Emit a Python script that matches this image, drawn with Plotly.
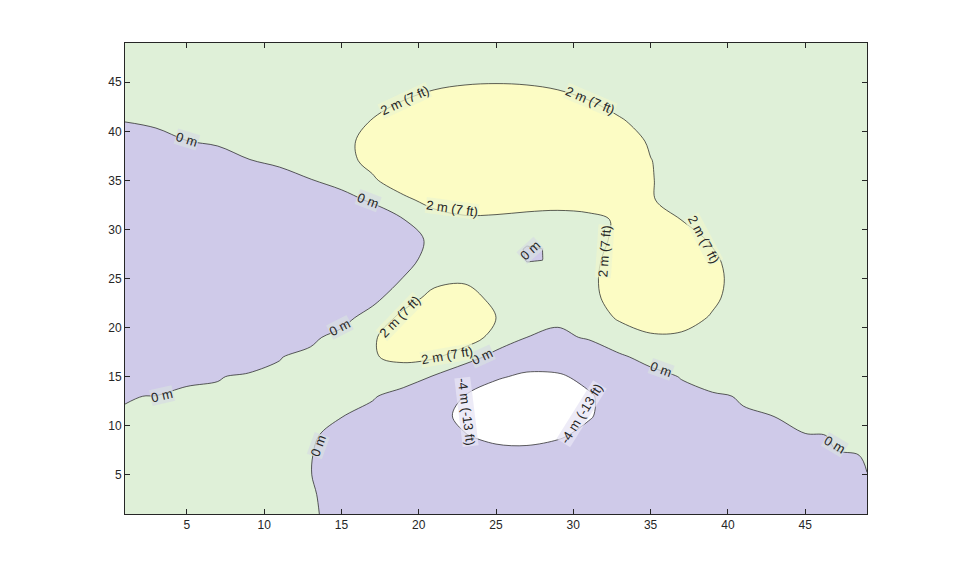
import plotly.graph_objects as go

# grid positions (every other sample of a 49x49 grid)
grid_x = list(range(1, 50, 2))
grid_y = list(range(1, 50, 2))

# surface height in metres, one row per grid_y value
height_m = [
    [0.001, 0.001, 0.001, 0.001, 0.002, 0.01, 0.004, -0.01, -0.03, -0.08, -0.14, -0.2, -0.24, -0.25, -0.22, -0.17, -0.11, -0.06, -0.03, -0.01, -0.004, -0.002, -0.001, -0.0003, -0.0001],
    [0.001, 0.001, 0.001, 0.002, 0.01, 0.01, 0.005, -0.02, -0.1, -0.22, -0.39, -0.56, -0.68, -0.69, -0.61, -0.46, -0.3, -0.17, -0.08, -0.03, -0.01, -0.003, -0.001, -0.0005, -0.0001],
    [0.001, 0.001, 0.002, 0.01, 0.01, 0.02, 0.003, -0.07, -0.23, -0.53, -0.92, -1.31, -1.57, -1.6, -1.41, -1.06, -0.69, -0.38, -0.18, -0.08, -0.03, -0.01, -0.0017, -0.0003, -0.00001],
    [0.001, 0.001, 0.01, 0.01, 0.03, 0.04, 0.01, -0.12, -0.44, -0.99, -1.74, -2.51, -3.02, -3.1, -2.72, -2.05, -1.32, -0.73, -0.35, -0.14, -0.05, -0.01, -0.0025, -0.0002, 0.00007],
    [0.0008, 0.002, 0.01, 0.02, 0.05, 0.07, 0.05, -0.13, -0.59, -1.45, -2.64, -3.88, -4.76, -4.93, -4.35, -3.27, -2.1, -1.15, -0.53, -0.2, -0.06, -0.01, -0.0012, 0.0006, 0.0004],
    [0.0006, 0.003, 0.01, 0.03, 0.07, 0.13, 0.15, 0.02, -0.46, -1.48, -3.0, -4.7, -5.97, -6.33, -5.64, -4.24, -2.69, -1.42, -0.61, -0.2, -0.04, 0.0007, 0.01, 0.003, 0.001],
    [-0.0004, 0.0003, 0.01, 0.03, 0.08, 0.19, 0.33, 0.39, 0.15, -0.68, -2.19, -4.08, -5.68, -6.33, -5.76, -4.32, -2.63, -1.27, -0.44, -0.07, 0.04, 0.05, 0.03, 0.01, 0.002],
    [-0.003, -0.01, -0.01, -0.01, 0.03, 0.17, 0.45, 0.84, 1.11, 0.88, -0.14, -1.84, -3.6, -4.6, -4.4, -3.22, -1.74, -0.56, 0.08, 0.27, 0.23, 0.13, 0.06, 0.02, 0.01],
    [-0.01, -0.02, -0.06, -0.1, -0.13, -0.04, 0.3, 0.98, 1.86, 2.45, 2.22, 1.0, -0.72, -2.02, -2.22, -1.43, -0.27, 0.58, 0.88, 0.77, 0.5, 0.26, 0.11, 0.04, 0.01],
    [-0.02, -0.05, -0.12, -0.25, -0.42, -0.51, -0.28, 0.49, 1.78, 3.09, 3.63, 2.94, 1.4, -0.005, -0.41, 0.2, 1.18, 1.79, 1.78, 1.35, 0.82, 0.41, 0.18, 0.06, 0.02],
    [-0.03, -0.08, -0.2, -0.44, -0.8, -1.16, -1.21, -0.6, 0.8, 2.49, 3.55, 3.3, 2.0, 0.7, 0.39, 1.14, 2.2, 2.76, 2.56, 1.87, 1.12, 0.56, 0.24, 0.09, 0.03],
    [-0.03, -0.1, -0.27, -0.6, -1.14, -1.78, -2.16, -1.84, -0.57, 1.23, 2.56, 2.63, 1.58, 0.53, 0.48, 1.5, 2.76, 3.37, 3.09, 2.25, 1.34, 0.67, 0.28, 0.1, 0.03],
    [-0.04, -0.11, -0.3, -0.69, -1.33, -2.14, -2.77, -2.71, -1.65, 0.06, 1.48, 1.75, 0.98, 0.19, 0.37, 1.57, 2.94, 3.58, 3.27, 2.37, 1.41, 0.7, 0.3, 0.11, 0.03],
    [-0.04, -0.11, -0.29, -0.67, -1.32, -2.16, -2.87, -2.98, -2.15, -0.65, 0.68, 1.06, 0.52, -0.03, 0.28, 1.47, 2.76, 3.36, 3.06, 2.22, 1.32, 0.66, 0.28, 0.1, 0.03],
    [-0.03, -0.09, -0.25, -0.57, -1.12, -1.85, -2.49, -2.64, -2.0, -0.76, 0.39, 0.8, 0.46, 0.09, 0.38, 1.34, 2.38, 2.83, 2.56, 1.84, 1.09, 0.54, 0.23, 0.08, 0.03],
    [-0.02, -0.07, -0.18, -0.42, -0.82, -1.33, -1.76, -1.78, -1.16, -0.05, 1.04, 1.55, 1.42, 1.12, 1.17, 1.65, 2.17, 2.32, 1.99, 1.4, 0.82, 0.4, 0.17, 0.06, 0.02],
    [-0.01, -0.04, -0.11, -0.25, -0.48, -0.74, -0.86, -0.6, 0.23, 1.51, 2.79, 3.59, 3.69, 3.34, 2.93, 2.66, 2.43, 2.08, 1.58, 1.04, 0.58, 0.28, 0.11, 0.04, 0.01],
    [-0.01, -0.02, -0.06, -0.12, -0.2, -0.23, -0.05, 0.55, 1.69, 3.29, 4.92, 6.07, 6.39, 5.94, 5.02, 3.97, 2.97, 2.09, 1.35, 0.79, 0.41, 0.19, 0.07, 0.03, 0.01],
    [-0.003, -0.01, -0.02, -0.03, -0.01, 0.11, 0.48, 1.27, 2.61, 4.37, 6.2, 7.54, 8.0, 7.48, 6.25, 4.72, 3.25, 2.05, 1.19, 0.62, 0.29, 0.12, 0.05, 0.02, 0.002],
    [-0.0009, -0.0016, -0.0004, 0.01, 0.07, 0.24, 0.65, 1.43, 2.67, 4.29, 5.96, 7.22, 7.67, 7.19, 5.99, 4.45, 2.96, 1.78, 0.96, 0.47, 0.21, 0.08, 0.03, 0.01, 0.002],
    [0.00002, 0.0008, 0.01, 0.02, 0.08, 0.23, 0.55, 1.16, 2.1, 3.31, 4.56, 5.51, 5.86, 5.5, 4.57, 3.37, 2.21, 1.29, 0.68, 0.32, 0.13, 0.05, 0.02, 0.002, 0.001],
    [0.001, 0.001, 0.002, 0.02, 0.06, 0.15, 0.36, 0.74, 1.32, 2.07, 2.84, 3.43, 3.65, 3.43, 2.84, 2.09, 1.36, 0.79, 0.41, 0.19, 0.08, 0.03, 0.01, 0.002, 0.001],
    [0.001, 0.001, 0.002, 0.01, 0.03, 0.08, 0.19, 0.39, 0.69, 1.07, 1.47, 1.77, 1.88, 1.77, 1.47, 1.08, 0.7, 0.4, 0.2, 0.09, 0.04, 0.01, 0.002, 0.001, 0.001],
    [0.001, 0.001, 0.001, 0.002, 0.01, 0.04, 0.08, 0.17, 0.3, 0.46, 0.64, 0.77, 0.82, 0.77, 0.64, 0.47, 0.3, 0.17, 0.09, 0.04, 0.02, 0.01, 0.002, 0.001, 0.001],
    [0.001, 0.001, 0.001, 0.001, 0.01, 0.01, 0.03, 0.06, 0.11, 0.17, 0.23, 0.28, 0.3, 0.28, 0.23, 0.17, 0.11, 0.06, 0.03, 0.01, 0.01, 0.002, 0.001, 0.001, 0.001],
]

# full-resolution samples around the small dip near (27, 27)
dip_x = [25, 26, 27, 28, 29]
dip_y = [25, 26, 27, 28, 29]
dip_height_m = [
    [0.981, 0.511, 0.190, 0.131, 0.374],
    [0.726, 0.322, 0.061, 0.047, 0.322],
    [0.523, 0.182, -0.028, -0.008, 0.279],
    [0.411, 0.126, -0.041, -0.002, 0.277],
    [0.464, 0.228, 0.090, 0.129, 0.375],
]

# contour levels (metres) and their labels
levels = [-4, 0, 2]
level_labels = {-4: "-4 m (-13 ft)", 0: "0 m", 2: "2 m (7 ft)"}

# where each label sits on its contour line: (level, x, y, angle)
label_spots = [
    (0, 5.0, 39.2, 17), (0, 16.7, 32.9, 21), (0, 14.9, 20.0, -27), (0, 3.4, 13.1, -13),
    (0, 27.2, 27.9, -42), (0, 24.1, 17.1, -25), (0, 35.7, 15.7, 20), (0, 46.9, 8.1, 31),
    (0, 13.5, 8.0, -70),
    (2, 19.1, 43.1, -25), (2, 31.1, 43.1, 23), (2, 22.15, 32.1, 8), (2, 32.0, 27.8, -86),
    (2, 38.45, 29.0, 62), (2, 18.8, 21.1, -46), (2, 21.8, 17.2, -10),
    (-4, 23.06, 11.4, 83), (-4, 30.56, 11.2, -58),
]

fills = {-4: "rgb(207,202,233)", 0: "rgb(223,240,216)", 2: "rgb(252,252,196)"}
label_bg = {-4: "rgba(231,228,244,0.75)", 0: "rgba(215,221,225,0.75)", 2: "rgba(238,246,206,0.75)"}
line_style = dict(color="#1a1a1a", width=0.7, smoothing=1.0)

fig = go.Figure()
for lv in levels:
    fig.add_trace(go.Contour(
        x=grid_x, y=grid_y, z=height_m, showscale=False,
        contours=dict(type="constraint", operation="<", value=lv),
        fillcolor=fills[lv], line=line_style, hoverinfo="skip"))

fig.add_trace(go.Contour(
    x=dip_x, y=dip_y, z=dip_height_m, showscale=False,
    contours=dict(type="constraint", operation=">", value=0),
    fillcolor=fills[-4], line=dict(color="#1a1a1a", width=0.7, smoothing=0),
    hoverinfo="skip"))

for lv, x, y, ang in label_spots:
    fig.add_annotation(x=x, y=y, text=level_labels[lv], textangle=ang, showarrow=False,
                       bgcolor=label_bg[lv], borderpad=0,
                       font=dict(family="Liberation Sans, Arial", size=13, color="#262626"))

fig.update_layout(width=959, height=577, margin=dict(l=125, r=92, t=43, b=63),
    paper_bgcolor="white", plot_bgcolor="white", showlegend=False,
    font=dict(family="Liberation Sans, Arial", size=12, color="#262626"))
ax = dict(range=[1, 49], tickvals=[5, 10, 15, 20, 25, 30, 35, 40, 45], ticks="inside", ticklen=5,
          tickcolor="#262626", showline=True, linecolor="#262626", linewidth=1, mirror="ticks",
          showgrid=False, zeroline=False)
fig.update_xaxes(**ax)
fig.update_yaxes(**ax)
fig.write_html("out.html", config={"displayModeBar": False},
               post_script="document.body.style.margin='0';")
